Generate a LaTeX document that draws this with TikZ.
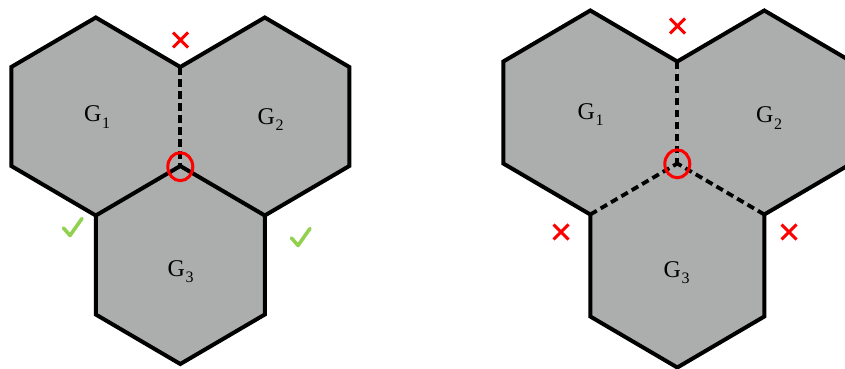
\documentclass[tikz,border=0pt]{standalone}
\usepackage{fontspec}
\newfontfamily\lblfont{Liberation Serif}
\usetikzlibrary{shapes.geometric}
\definecolor{hexgray}{RGB}{171,174,172}
\definecolor{okgreen}{RGB}{146,208,80}
\definecolor{badred}{RGB}{255,0,0}
\newcommand{\gsub}[1]{G\kern0.5pt\raisebox{-6.5pt}{\fontsize{16}{16}\selectfont #1}}
\tikzset{
  hexarea/.style={fill=hexgray, draw=none},
  solidedge/.style={line width=4pt, line join=miter, line cap=butt},
  dashedge/.style={line width=3.8pt, dash pattern=on 7.5pt off 4.5pt},
  ghostdash/.style={line width=2.6pt, dash pattern=on 7pt off 4pt},
  redx/.style={draw=badred, line width=3pt},
  okcheck/.style={draw=okgreen, line width=3.6pt, line cap=round, line join=round},
  juncring/.style={draw=badred, line width=3pt, ellipse, minimum width=25pt, minimum height=28pt, inner sep=0pt},
  lbl/.style={font=\lblfont\fontsize{24}{28}\selectfont, text=black, anchor=base west, inner sep=0pt}
}
\newcommand{\hexcoords}[1]{%
  \coordinate (#1C)  at (0,0);
  \coordinate (#1T)  at (0,-\S);
  \coordinate (#1P)  at (-\W,0.5*\S);
  \coordinate (#1Q)  at (\W,0.5*\S);
  \coordinate (#1Atop) at (-\W,-1.5*\S);
  \coordinate (#1Aul) at (-2*\W,-\S);
  \coordinate (#1All) at (-2*\W,0);
  \coordinate (#1Btop) at (\W,-1.5*\S);
  \coordinate (#1Bur) at (2*\W,-\S);
  \coordinate (#1Blr) at (2*\W,0);
  \coordinate (#1Cll) at (-\W,1.5*\S);
  \coordinate (#1Cbot) at (0,2*\S);
  \coordinate (#1Clr) at (\W,1.5*\S);
}
\begin{document}
\begin{tikzpicture}[x=1pt,y=-1pt]
\useasboundingbox (0,0) rectangle (845,369);
\clip (0,0) rectangle (845,369);

% ---------- left panel ----------
\def\W{84.5}\def\S{99}
\begin{scope}[shift={(180.3,166)}]
  \hexcoords{a}
\end{scope}
\fill[hexarea] (aT) -- (aAtop) -- (aAul) -- (aAll) -- (aP) -- (aC) -- cycle;
\fill[hexarea] (aT) -- (aBtop) -- (aBur) -- (aBlr) -- (aQ) -- (aC) -- cycle;
\fill[hexarea] (aC) -- (aQ) -- (aClr) -- (aCbot) -- (aCll) -- (aP) -- cycle;
\draw[solidedge] (aT) -- (aAtop) -- (aAul) -- (aAll) -- (aP) -- (aCll) -- (aCbot) -- (aClr) -- (aQ) -- (aBlr) -- (aBur) -- (aBtop) -- cycle;
\draw[solidedge] (aP) -- (aC) -- (aQ);
\draw[dashedge] (aT) -- (aC);
\node[juncring] (aring) at (180.3,166.7) {};
\coordinate (ax) at (180.5,40);
\draw[redx, shift={(ax)}] (-7.5,-7.5) -- (7.5,7.5) (-7.5,7.5) -- (7.5,-7.5);
\coordinate (ack1) at (72,228);
\coordinate (ack2) at (300,238);
\draw[okcheck, shift={(ack1)}] (-8.5,0) -- (-2,7.5) -- (10,-9.5);
\draw[okcheck, shift={(ack2)}] (-8.5,0) -- (-2,7.5) -- (10,-9.5);
\node[lbl] (aG1) at (84,121.5) {\gsub{1}};
\node[lbl] (aG2) at (257.5,124) {\gsub{2}};
\node[lbl] (aG3) at (167.5,276) {\gsub{3}};

% ---------- right panel ----------
\def\W{87}\def\S{102}
\begin{scope}[shift={(677.3,163.5)}]
  \hexcoords{b}
\end{scope}
\fill[hexarea] (bT) -- (bAtop) -- (bAul) -- (bAll) -- (bP) -- (bC) -- cycle;
\fill[hexarea] (bT) -- (bBtop) -- (bBur) -- (bBlr) -- (bQ) -- (bC) -- cycle;
\fill[hexarea] (bC) -- (bQ) -- (bClr) -- (bCbot) -- (bCll) -- (bP) -- cycle;
\draw[solidedge] (bT) -- (bAtop) -- (bAul) -- (bAll) -- (bP) -- (bCll) -- (bCbot) -- (bClr) -- (bQ) -- (bBlr) -- (bBur) -- (bBtop) -- cycle;
\draw[ghostdash, shift={(-1.8,0)}] (bAul) -- (bAll);
\draw[ghostdash, shift={(1.5,0)}] (bP) -- (bCll);
\draw[ghostdash, shift={(-1.8,0)}] (bQ) -- (bClr);
\draw[dashedge] (bT) -- (bC);
\draw[dashedge] (bP) -- (bC);
\draw[dashedge] (bQ) -- (bC);
\node[juncring] (bring) at (677.3,163.8) {};
\coordinate (bx1) at (677.5,26);
\coordinate (bx2) at (561,232);
\coordinate (bx3) at (789,232);
\draw[redx, shift={(bx1)}] (-7.5,-7.5) -- (7.5,7.5) (-7.5,7.5) -- (7.5,-7.5);
\draw[redx, shift={(bx2)}] (-7.5,-7.5) -- (7.5,7.5) (-7.5,7.5) -- (7.5,-7.5);
\draw[redx, shift={(bx3)}] (-7.5,-7.5) -- (7.5,7.5) (-7.5,7.5) -- (7.5,-7.5);
\node[lbl] (bG1) at (577.5,119) {\gsub{1}};
\node[lbl] (bG2) at (756,122.5) {\gsub{2}};
\node[lbl] (bG3) at (663.5,277) {\gsub{3}};
\end{tikzpicture}
\end{document}
